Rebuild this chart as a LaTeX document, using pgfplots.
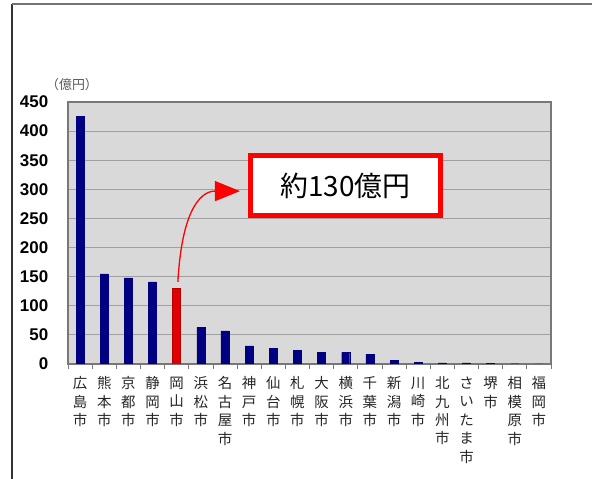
\documentclass[border=0pt]{standalone}
\usepackage{fontspec}
\setmainfont{Noto Sans CJK JP}
\newfontfamily\numfont{Liberation Sans}
\usepackage{pgfplots}
\usepackage{pgfplotstable}
\pgfplotsset{compat=1.18}
\usetikzlibrary{arrows.meta}

\definecolor{plotbg}{RGB}{217,217,217}
\definecolor{gridc}{RGB}{160,160,160}
\definecolor{framec}{RGB}{120,120,120}
\definecolor{barblue}{RGB}{0,0,128}
\definecolor{barred}{RGB}{225,0,0}

% index in the order of the chart, value in 100 million yen
\pgfplotstableread{
x  y
0  425
1  155
2  148
3  141
5  63
6  57
7  31
8  27
9  23
10 20
11 20
12 17
13 6
14 3
15 2
16 2
17 1.5
18 0.5
19 0
}\bluedata

\pgfplotstableread{
x  y
4  130
}\reddata

\begin{document}
\begin{tikzpicture}
\path[use as bounding box, fill=white] (0,0) rectangle (592bp,479bp);
% outer frame
\draw[black!80, line width=2bp] (12bp,0) -- (12bp,475bp);
\draw[black!55, line width=1.5bp] (12bp,475bp) -- (592bp,475bp);

\begin{axis}[
    at={(68bp,115bp)}, anchor=south west,
    scale only axis,
    width=483bp, height=262bp,
    xmin=-0.5, xmax=19.5,
    ymin=0, ymax=450,
    axis background/.style={fill=plotbg},
    axis line style={draw=framec, line width=1.2bp},
    ytick={0,50,...,450},
    ymajorgrids,
    grid style={draw=gridc, line width=0.9bp},
    ytick style={draw=none},
    /pgf/number format/assume math mode=true,
    yticklabel style={font=\numfont\bfseries\fontsize{17}{17}\selectfont, anchor=east, xshift=-12bp},
    xtick={0,...,19},
    xtick pos=bottom,
    major x tick style={draw=none},
    minor xtick={-0.5,0.5,...,19.5},
    minor x tick style={draw=framec, line width=0.8bp},
    minor tick length=5bp,
    tick align=outside,
    xticklabels={{広\\島\\市},{熊\\本\\市},{京\\都\\市},{静\\岡\\市},{岡\\山\\市},
        {浜\\松\\市},{名\\古\\屋\\市},{神\\戸\\市},{仙\\台\\市},{札\\幌\\市},
        {大\\阪\\市},{横\\浜\\市},{千\\葉\\市},{新\\潟\\市},{川\\崎\\市},
        {北\\九\\州\\市},{さ\\い\\た\\ま\\市},{堺\\市},{相\\模\\原\\市},{福\\岡\\市}},
    xticklabel style={font=\fontsize{14.5}{18.5}\selectfont, align=center, anchor=north, yshift=-5bp, text=black!85},
]
\addplot[ybar, bar width=8bp, bar shift=0pt, fill=barblue, draw=barblue] table[x=x, y=y] {\bluedata};
\addplot[ybar, bar width=8bp, bar shift=0pt, fill=barred, draw=red!70!black] table[x=x, y=y] {\reddata};

\draw[red, line width=1.3bp, -{Triangle[length=25bp, width=20bp]}]
    (axis cs:4.05,141) .. controls (axis cs:4.2,256) and (axis cs:4.9,297) .. (axis cs:6.62,297);
\node[draw=red, line width=5bp, fill=white, minimum width=190bp, minimum height=60bp,
      inner sep=0pt, font=\fontsize{28}{28}\selectfont] at (axis cs:10.99,306.6) {約130億円};
\end{axis}

\node[font=\fontsize{13}{13}\selectfont, text=black!65] at (72bp,394bp) {（億円）};
\end{tikzpicture}
\end{document}
